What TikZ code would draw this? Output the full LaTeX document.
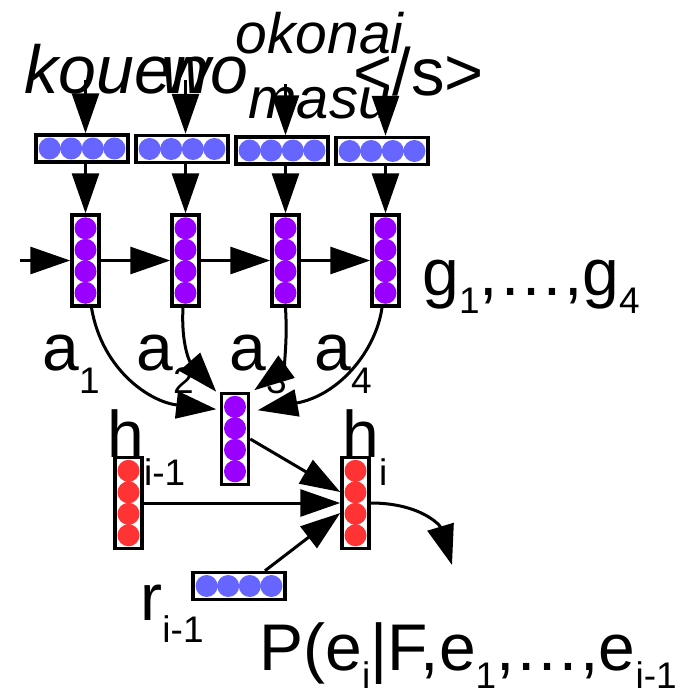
\documentclass[tikz,border=0pt]{standalone}
\usepackage{fontspec}
\setmainfont{Liberation Sans}
\usetikzlibrary{arrows.meta}

\definecolor{wordblue}{HTML}{6666FF}
\definecolor{encpurple}{HTML}{9900FF}
\definecolor{decred}{HTML}{FF3333}

% lowered index, #1 = drop in pt
\newcommand{\lo}[2]{\raisebox{-#1pt}{\fontsize{37}{37}\selectfont #2}}

\begin{document}
\begin{tikzpicture}[x=1pt, y=-1pt, every path/.style={line width=3pt},
    arr/.style={-{Triangle[length=40pt,width=27pt]}},
    hbox/.style={draw, line width=3.5pt, minimum width=92pt, minimum height=27pt, inner sep=0pt},
    vbox/.style={draw, line width=3.5pt, minimum width=27pt, minimum height=91pt, inner sep=0pt},
    lbl/.style={anchor=base west, inner sep=0pt, font=\fontsize{66}{66}\selectfont},
    word/.style={anchor=base west, inner sep=0pt, font=\fontsize{68}{68}\selectfont\itshape}]

    \useasboundingbox (0,0) rectangle (685,691);

    % source word embeddings
    \fill[wordblue] (49.6,148.5) circle (11pt) (71.2,148.5) circle (11pt) (92.8,148.5) circle (11pt) (114.4,148.5) circle (11pt);
    \node[hbox] (1) at (82,148.5) {};
    \fill[wordblue] (149.6,149) circle (11pt) (171.2,149) circle (11pt) (192.8,149) circle (11pt) (214.4,149) circle (11pt);
    \node[hbox] (2) at (182,149) {};
    \fill[wordblue] (249.6,150.5) circle (11pt) (271.2,150.5) circle (11pt) (292.8,150.5) circle (11pt) (314.4,150.5) circle (11pt);
    \node[hbox] (3) at (282,150.5) {};
    \fill[wordblue] (349.6,151) circle (11pt) (371.2,151) circle (11pt) (392.8,151) circle (11pt) (414.4,151) circle (11pt);
    \node[hbox] (4) at (382,151) {};

    % encoder states g
    \fill[encpurple] (85.5,228.3) circle (11pt) (85.5,249.8) circle (11pt) (85.5,271.3) circle (11pt) (85.5,292.8) circle (11pt);
    \node[vbox] (5) at (85.5,260.5) {};
    \fill[encpurple] (185.5,228.3) circle (11pt) (185.5,249.8) circle (11pt) (185.5,271.3) circle (11pt) (185.5,292.8) circle (11pt);
    \node[vbox] (6) at (185.5,260.5) {};
    \fill[encpurple] (285.5,228.3) circle (11pt) (285.5,249.8) circle (11pt) (285.5,271.3) circle (11pt) (285.5,292.8) circle (11pt);
    \node[vbox] (7) at (285.5,260.5) {};
    \fill[encpurple] (385.5,228.3) circle (11pt) (385.5,249.8) circle (11pt) (385.5,271.3) circle (11pt) (385.5,292.8) circle (11pt);
    \node[vbox] (8) at (385.5,260.5) {};

    % context vector
    \fill[encpurple] (235,406.8) circle (11pt) (235,428.3) circle (11pt) (235,449.8) circle (11pt) (235,471.3) circle (11pt);
    \node[vbox] (9) at (235,439) {};

    % decoder states
    \fill[decred] (128.5,470.8) circle (11pt) (128.5,492.3) circle (11pt) (128.5,513.8) circle (11pt) (128.5,535.3) circle (11pt);
    \node[vbox] (10) at (128.5,503) {};
    \fill[decred] (355.5,470.8) circle (11pt) (355.5,492.3) circle (11pt) (355.5,513.8) circle (11pt) (355.5,535.3) circle (11pt);
    \node[vbox] (11) at (355.5,503) {};

    % previous output word
    \fill[wordblue] (206.6,586) circle (11pt) (228.2,586) circle (11pt) (249.8,586) circle (11pt) (271.4,586) circle (11pt);
    \node[hbox] (12) at (239,586) {};

    % labels
    \node[word] (13) at (23,93) {kouen};
    \node[word] (14) at (160,93) {wo};
    \node[word, font=\fontsize{57}{57}\selectfont\itshape] (15) at (234,53) {okonai};
    \node[word, font=\fontsize{58}{58}\selectfont\itshape] (16) at (247,118) {masu};
    \node[lbl, font=\fontsize{67}{67}\selectfont] (17) at (352,95) {</s>};
    \node[lbl] (18) at (421,295) {g\lo{18}{1},…,g\lo{18}{4}};
    \node[lbl] (19) at (41,370) {a\lo{23}{1}};
    \node[lbl] (20) at (135,370) {a\lo{23}{2}};
    \node[lbl] (21) at (228,370) {a\lo{23}{3}};
    \node[lbl] (22) at (313,370) {a\lo{23}{4}};
    \node[lbl] (23) at (106,457) {h\lo{28}{i-1}};
    \node[lbl] (24) at (341,457) {h\lo{28}{i}};
    \node[lbl] (25) at (139,620) {r\lo{22}{i-1}};
    \node[lbl] (26) at (258,670) {P(e\lo{18}{i}|F,e\lo{18}{1},…,e\lo{18}{i-1}};

    % arrow starts
    \coordinate (t1) at (85.5,80);
    \coordinate (t2) at (185.5,80);
    \coordinate (t3) at (285.5,84);
    \coordinate (t4) at (385.5,98);
    \coordinate (s) at (20,260.5);
    \coordinate (o) at (452,565);

    \draw[arr] (t1) -- (t1 |- 1.north);
    \draw[arr] (t2) -- (t2 |- 2.north);
    \draw[arr] (t3) -- (t3 |- 3.north);
    \draw[arr] (t4) -- (t4 |- 4.north);
    \draw[arr] (1.south -| 5) -- (5.north);
    \draw[arr] (2.south -| 6) -- (6.north);
    \draw[arr] (3.south -| 7) -- (7.north);
    \draw[arr] (4.south -| 8) -- (8.north);

    \draw[arr] (s) -- (5.west);
    \draw[arr] (5.east) -- (6.west);
    \draw[arr] (6.east) -- (7.west);
    \draw[arr] (7.east) -- (8.west);

    % attention
    \draw[arr] ([xshift=6pt]5.south) .. controls (102,370) and (150,402) .. ([xshift=-3.5pt,yshift=-17.5pt]9.north west);
    \draw[arr] ([xshift=-2.5pt]6.south) .. controls (181,345) and (190,362) .. ([xshift=-3.5pt]9.north west);
    \draw[arr] (7.south) .. controls (288,350) and (282,370) .. ([xshift=4pt,yshift=1.5pt]9.north east);
    \draw[arr] ([xshift=-3.5pt]8.south) .. controls (376,350) and (340,395) .. ([xshift=7.5pt,yshift=-18.5pt]9.north east);

    \draw[arr] (9.east) -- ([yshift=11pt]11.west);
    \draw[arr] (10.east) -- (11.west);
    \draw[arr] ([xshift=26pt]12.north) -- ([yshift=-10pt]11.west);
    \draw[arr] (11.east) .. controls (420,503) and (440,525) .. (o);
\end{tikzpicture}
\end{document}
